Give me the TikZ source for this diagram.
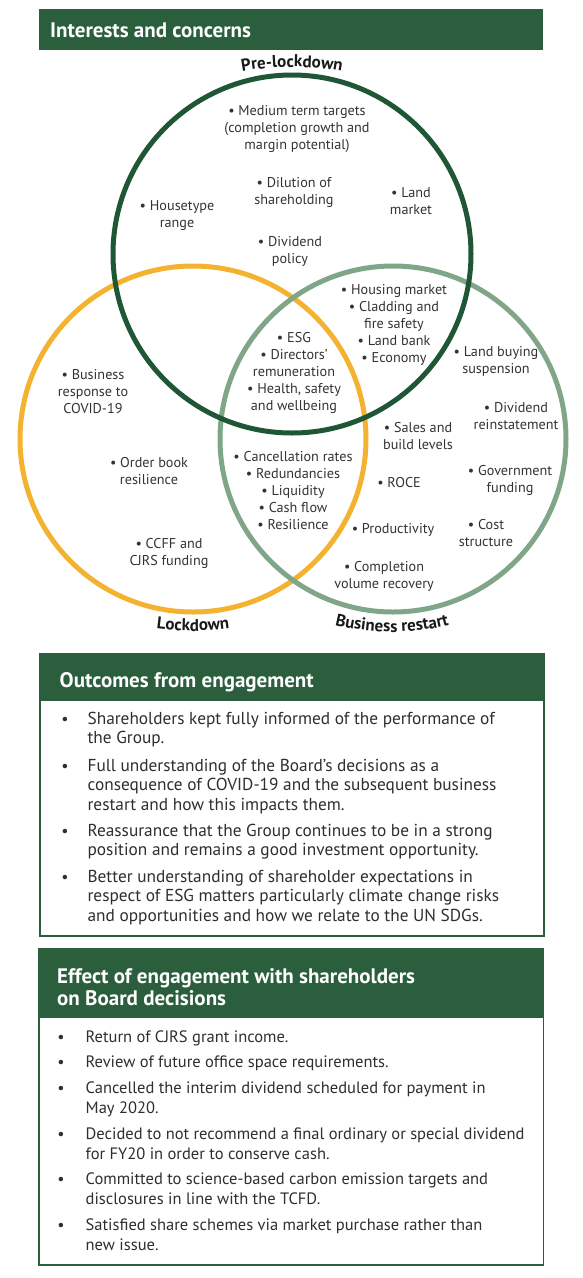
\documentclass[tikz,border=0pt]{standalone}
\usepackage{fontspec}
\setmainfont{PT Sans}
\usepackage{xcolor}
\usepackage{tikz}
\usetikzlibrary{positioning,decorations.text}

\definecolor{headgreen}{HTML}{2A5E3C}
\definecolor{ringgreen}{HTML}{1F5736}
\definecolor{ringorange}{HTML}{F4B231}
\definecolor{ringsage}{HTML}{80A68A}
\definecolor{venntext}{HTML}{333333}
\definecolor{bodytext}{HTML}{2E2E2E}

\newcommand{\ringfont}{\bfseries\fontsize{17}{17}\selectfont\color{black!90}}

\tikzset{
  ring/.style={line width=5pt},
  venn/.style={align=center, inner sep=0pt, text=venntext, font=\fontsize{14.2}{17}\selectfont},
  headbar/.style={fill=headgreen},
  boxframe/.style={draw=headgreen, line width=1.3pt},
  headtext/.style={anchor=base west, inner sep=0pt, align=left, text=white, font=\bfseries\fontsize{21}{22}\selectfont},
  outtext/.style={anchor=base west, inner sep=0pt, align=left, text=bodytext, font=\fontsize{17.3}{19.7}\selectfont},
  efftext/.style={anchor=base west, inner sep=0pt, align=left, text=bodytext, font=\fontsize{16.5}{20.5}\selectfont},
  dot/.style={anchor=base, inner sep=0pt, text=bodytext, font=\fontsize{16}{16}\selectfont}
}

\begin{document}
\begin{tikzpicture}[x=1pt,y=-1pt]
\useasboundingbox (0,0) rectangle (583,1278);

% Interests header
\fill[headbar] (39,9) rectangle (543,50);
\node[headtext] (ichead) at (50,37.7) {Interests and concerns};

% Rings
\draw[ring, ringorange] (193,439) circle[radius=173];
\draw[ring, ringsage] (393,439) circle[radius=173];
\draw[ring, ringgreen] (292,254) circle[radius=179];

% Ring labels (flatter arcs than the rings)
\path[decorate, decoration={text along path, text align=center, text={|\ringfont|Pre-lockdown}}]
  (292,347) ++(250:280) arc[start angle=250, end angle=290, radius=280];
\path[decorate, decoration={text along path, text align=center, text={|\ringfont|Lockdown}}]
  (193,351) ++(110:280) arc[start angle=110, end angle=70, radius=280];
\path[decorate, decoration={text along path, text align=center, text={|\ringfont|Business restart}}]
  (392,392) ++(115:240) arc[start angle=115, end angle=65, radius=240];

% Pre-lockdown only
\node[venn] (medium) at (297,129) {• Medium term targets\\(completion growth and\\margin potential)};
\node[venn] (dilution) at (294,192.5) {• Dilution of\\shareholding};
\node[venn] (housetype) at (177,215.5) {• Housetype\\range};
\node[venn] (landmkt) at (411,201) {• Land\\market};
\node[venn] (divpolicy) at (290,251.5) {• Dividend\\policy};

% Pre-lockdown and restart
\node[venn] (housing) at (394,325.2) {• Housing market\\• Cladding and\\fire safety\\• Land bank\\• Economy};

% All three
\node[venn] (esg) at (294,372.8) {• ESG\\• Directors'\\remuneration\\• Health, safety\\and wellbeing};

% Lockdown only
\node[venn] (bizresp) at (93,392) {• Business\\response to\\COVID-19};
\node[venn] (orderbook) at (149,471.5) {• Order book\\resilience};
\node[venn] (ccff) at (169,553.5) {• CCFF and\\CJRS funding};

% Lockdown and restart
\node[venn] (cancel) at (293,491) {• Cancellation rates\\• Redundancies\\• Liquidity\\• Cash flow\\• Resilience};

% Restart only
\node[venn] (landbuy) at (496,361.5) {• Land buying\\suspension};
\node[venn] (divrein) at (516,416.5) {• Dividend\\reinstatement};
\node[venn] (sales) at (418,436.5) {• Sales and\\build levels};
\node[venn] (govt) at (510,480.5) {• Government\\funding};
\node[venn] (roce) at (399,483) {• ROCE};
\node[venn] (product) at (393,530) {• Productivity};
\node[venn] (cost) at (486,533.5) {• Cost\\structure};
\node[venn] (completion) at (384,576.5) {• Completion\\volume recovery};

% Outcomes box
\draw[boxframe] (40,654) rectangle (544,936);
\fill[headbar] (40,654) rectangle (544,701);
\node[headtext] (outhead) at (59.5,687.7) {Outcomes from engagement};
\foreach [count=\i] \ypos/\nl/\txt in {
  724/2/{Shareholders kept fully informed of the performance of\\the Group.},
  771/3/{Full understanding of the Board’s decisions as a\\consequence of COVID-19 and the subsequent business\\restart and how this impacts them.},
  836/2/{Reassurance that the Group continues to be in a strong\\position and remains a good investment opportunity.},
  882/3/{Better understanding of shareholder expectations in\\respect of ESG matters particularly climate change risks\\and opportunities and how we relate to the UN SDGs.}} {
  \node[dot] (outdot\i) at (65,\ypos) {•};
  \node[outtext] (out\i) at (87.4,{\ypos+(\nl-1)*19.7}) {\txt};
}

% Effect box
\draw[boxframe] (39,949) rectangle (543.5,1265);
\fill[headbar] (39,949) rectangle (543.5,1018);
\node[headtext] (effhead) at (57,1005) {Effect of engagement with shareholders\\on Board decisions};
\foreach [count=\i] \ypos/\nl/\txt in {
  1042/1/{Return of CJRS grant income.},
  1067/1/{Review of future office space requirements.},
  1093/2/{Cancelled the interim dividend scheduled for payment in\\May 2020.},
  1139/2/{Decided to not recommend a final ordinary or special dividend\\for FY20 in order to conserve cash.},
  1184/2/{Committed to science-based carbon emission targets and\\disclosures in line with the TCFD.},
  1230/2/{Satisfied share schemes via market purchase rather than\\new issue.}} {
  \node[dot] (effdot\i) at (61,\ypos) {•};
  \node[efftext] (eff\i) at (85.5,{\ypos+(\nl-1)*20.5}) {\txt};
}

\end{tikzpicture}
\end{document}
